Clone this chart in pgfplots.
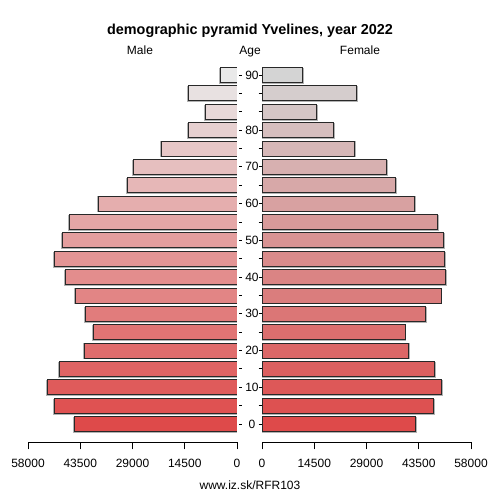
\documentclass[border=0pt]{standalone}
\usepackage{pgfplots}
\pgfplotsset{compat=1.18}
\usepackage{fontspec}
\setmainfont{Liberation Sans}
\definecolor{mbot}{RGB}{222,74,74}
\definecolor{mtop}{RGB}{233,233,233}
\definecolor{fbot}{RGB}{222,74,74}
\definecolor{ftop}{RGB}{212,212,212}
\definecolor{edge}{RGB}{40,40,40}
\pgfplotsset{
  pyr/.style={
    scale only axis, width=209bp, height=376.6bp,
    xmin=0, xmax=58000, ymin=-1, ymax=19.5,
    xbar, bar width=15bp, bar shift=0pt,
    axis x line*=bottom,
    x axis line style={black, line width=0.8bp},
    xtick={0,14500,29000,43500,58000}, scaled x ticks=false,
    /pgf/number format/assume math mode=true,
    /pgf/number format/set thousands separator={},
    tick label style={font=\fontsize{12bp}{14bp}\selectfont},
    tick align=outside,
    x tick style={black, line width=0.8bp},
    major tick length=7bp,
    xticklabel style={yshift=-6bp},
    ytick={0,...,19},
    y axis line style={draw=none},
    y tick style={black, line width=0.8bp},
  },
  mb/.style={fill=mtop!#1!mbot, draw=edge, line width=0.7bp,
    preaction={draw=black!30, line width=0.9bp, transform canvas={shift={(-0.9bp,-0.9bp)}}}},
  fb/.style={fill=ftop!#1!fbot, draw=edge, line width=0.7bp,
    preaction={draw=black!30, line width=0.9bp, transform canvas={shift={(0.9bp,-0.9bp)}}}},
}
\begin{document}
\begin{tikzpicture}
\path[use as bounding box] (0,0) rectangle (500bp,500bp);

% male
\begin{axis}[pyr, x dir=reverse, at={(28bp,57.63bp)}, anchor=south west,
  axis y line*=right,
  yticklabels={0,{},10,{},20,{},30,{},40,{},50,{},60,{},70,{},80,{},{},90},
  yticklabel style={anchor=center, xshift=8bp},
  y tick style={xshift=2.3bp, /pgfplots/major tick length=2.7bp}]
\addplot[mb=0]    coordinates {(45150,0)};
\addplot[mb=5.3]  coordinates {(50700,1)};
\addplot[mb=10.5] coordinates {(52540,2)};
\addplot[mb=15.8] coordinates {(49300,3)};
\addplot[mb=21.1] coordinates {(42270,4)};
\addplot[mb=26.3] coordinates {(39770,5)};
\addplot[mb=31.6] coordinates {(41990,6)};
\addplot[mb=36.8] coordinates {(44870,7)};
\addplot[mb=42.1] coordinates {(47730,8)};
\addplot[mb=47.4] coordinates {(50600,9)};
\addplot[mb=52.6] coordinates {(48570,10)};
\addplot[mb=57.9] coordinates {(46440,11)};
\addplot[mb=63.2] coordinates {(38390,12)};
\addplot[mb=68.4] coordinates {(30340,13)};
\addplot[mb=73.7] coordinates {(28770,14)};
\addplot[mb=78.9] coordinates {(21000,15)};
\addplot[mb=84.2] coordinates {(13410,16)};
\addplot[mb=89.5] coordinates {(8790,17)};
\addplot[mb=94.7] coordinates {(13500,18)};
\addplot[mb=100]  coordinates {(4720,19)};
\end{axis}

% female
\begin{axis}[pyr, at={(262bp,57.63bp)}, anchor=south west,
  axis y line*=left, yticklabels={},
  y tick style={xshift=-0.5bp, /pgfplots/major tick length=3bp}]
\addplot[fb=0]    coordinates {(42630,0)};
\addplot[fb=5.3]  coordinates {(47630,1)};
\addplot[fb=10.5] coordinates {(49740,2)};
\addplot[fb=15.8] coordinates {(47800,3)};
\addplot[fb=21.1] coordinates {(40570,4)};
\addplot[fb=26.3] coordinates {(39650,5)};
\addplot[fb=31.6] coordinates {(45300,6)};
\addplot[fb=36.8] coordinates {(49660,7)};
\addplot[fb=42.1] coordinates {(50800,8)};
\addplot[fb=47.4] coordinates {(50700,9)};
\addplot[fb=52.6] coordinates {(50300,10)};
\addplot[fb=57.9] coordinates {(48740,11)};
\addplot[fb=63.2] coordinates {(42350,12)};
\addplot[fb=68.4] coordinates {(37070,13)};
\addplot[fb=73.7] coordinates {(34570,14)};
\addplot[fb=78.9] coordinates {(25760,15)};
\addplot[fb=84.2] coordinates {(19730,16)};
\addplot[fb=89.5] coordinates {(15120,17)};
\addplot[fb=94.7] coordinates {(26230,18)};
\addplot[fb=100]  coordinates {(11230,19)};
\end{axis}

\node[anchor=base, font=\fontsize{14.4bp}{17bp}\selectfont\bfseries] at (250bp,465bp) {demographic pyramid Yvelines, year 2022};
\node[anchor=base, font=\fontsize{12bp}{14bp}\selectfont] at (140bp,445bp) {Male};
\node[anchor=base, font=\fontsize{12bp}{14bp}\selectfont] at (250bp,445bp) {Age};
\node[anchor=base, font=\fontsize{12bp}{14bp}\selectfont] at (360bp,445bp) {Female};
\node[anchor=base, font=\fontsize{12bp}{14bp}\selectfont] at (250bp,11bp) {www.iz.sk/RFR103};
\end{tikzpicture}
\end{document}
